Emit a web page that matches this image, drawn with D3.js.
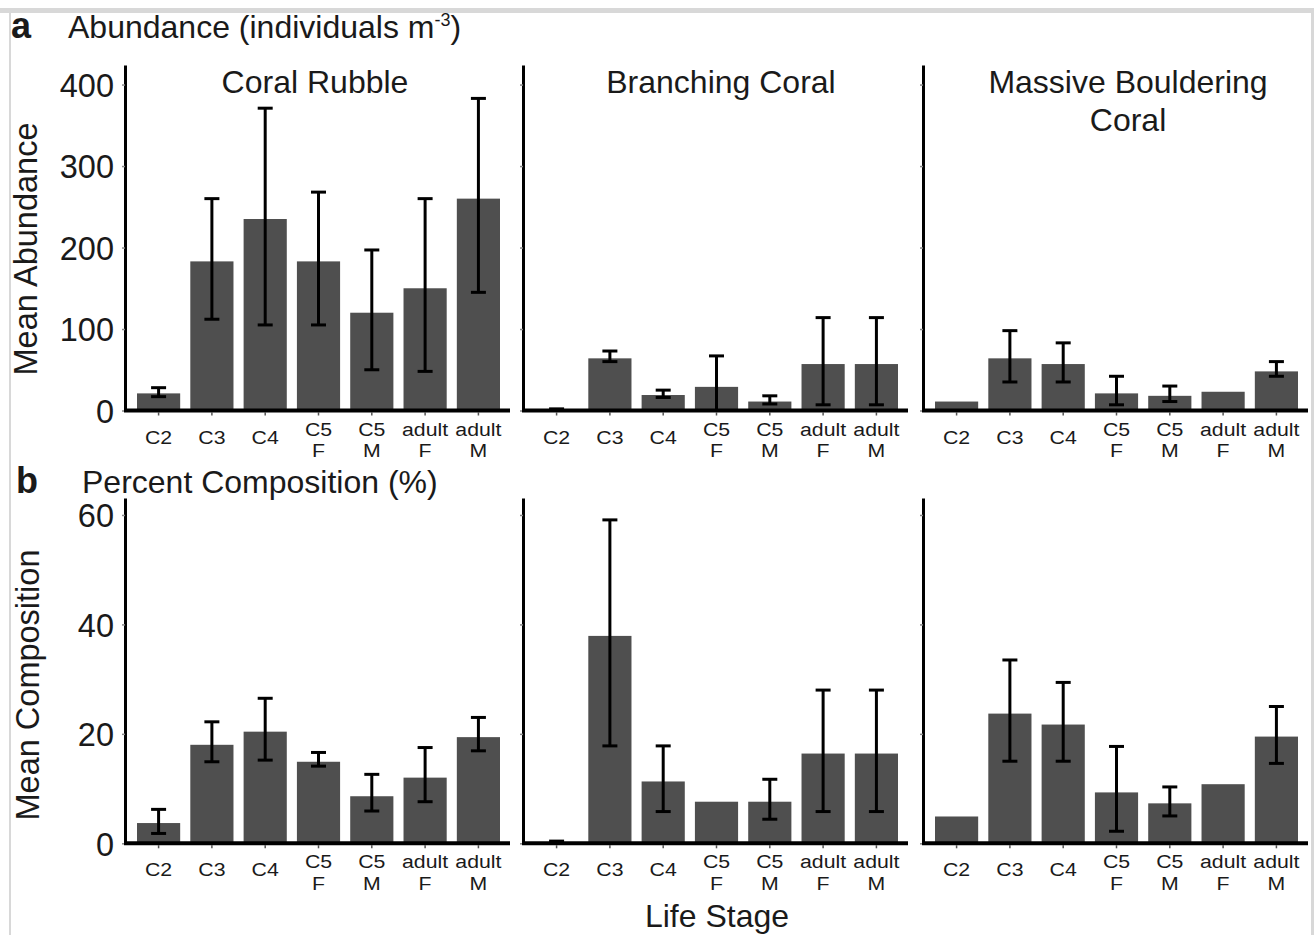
<!DOCTYPE html>
<html>
<head>
<meta charset="utf-8">
<script src="https://cdn.jsdelivr.net/npm/d3@7"></script>
<style>
  body { margin: 0; background: #fff; }
  svg text { font-family: "Liberation Sans", Arial, sans-serif; fill: #1a1a1a; }
</style>
</head>
<body>
<script>
// life stages (x categories), two-line tick labels
var stages = ["C2", "C3", "C4", "C5 F", "C5 M", "adult F", "adult M"];
var stageLines = [["C2"], ["C3"], ["C4"], ["C5", "F"], ["C5", "M"], ["adult", "F"], ["adult", "M"]];
var habitatTitles = [["Coral Rubble"], ["Branching Coral"], ["Massive Bouldering", "Coral"]];

// a: mean abundance (individuals m-3), with error bar ends (null = no bar)
var abundRubble = [21, 183, 235, 183, 120, 150, 260];
var abundRubbleLo = [17, 112, 105, 105, 50, 48, 145];
var abundRubbleHi = [28, 260, 371, 268, 197, 260, 383];
var abundBranching = [0, 64, 19, 29, 11, 57, 57];
var abundBranchingLo = [0, 60, 16, 0, 8, 7, 7];
var abundBranchingHi = [2, 73, 25, 67, 18, 114, 114];
var abundMassive = [11, 64, 57, 21, 18, 23, 48];
var abundMassiveLo = [null, 35, 35, 7, 11, null, 42];
var abundMassiveHi = [null, 98, 83, 42, 30, null, 60];

// b: mean percent composition
var compRubble = [3.7, 18, 20.4, 14.9, 8.6, 12, 19.4];
var compRubbleLo = [1.8, 14.9, 15.2, 14.1, 5.9, 7.6, 16.9];
var compRubbleHi = [6.2, 22.2, 26.5, 16.6, 12.6, 17.5, 23];
var compBranching = [0, 37.9, 11.3, 7.6, 7.6, 16.4, 16.4];
var compBranchingLo = [0, 17.8, 5.8, null, 4.4, 5.8, 5.8];
var compBranchingHi = [0.4, 59.1, 17.8, null, 11.7, 28, 28];
var compMassive = [4.9, 23.7, 21.7, 9.3, 7.3, 10.8, 19.5];
var compMassiveLo = [null, 15, 15, 2.2, 5.0, null, 14.6];
var compMassiveHi = [null, 33.5, 29.4, 17.7, 10.3, null, 25];

var abundTicks = [0, 100, 200, 300, 400];
var compTicks = [0, 20, 40, 60];

var svg = d3.select("body").append("svg")
  .attr("width", 1314)
  .attr("height", 935);

// light grey frame of the figure
svg.append("rect").attr("x", 0).attr("y", 8).attr("width", 1314).attr("height", 5).attr("fill", "#d8d8d8");
svg.append("rect").attr("x", 9).attr("y", 8).attr("width", 2).attr("height", 927).attr("fill", "#d8d8d8");
svg.append("rect").attr("x", 1311).attr("y", 8).attr("width", 3).attr("height", 927).attr("fill", "#d8d8d8");

var panelX = [125, 523, 923];   // left edge (y axis) of each habitat panel
var panelW = 385;
var titleX = [315, 721, 1128];

var rows = [
  { top: 65, base: 410.5, max: 424, ticks: abundTicks,
    series: [[abundRubble, abundRubbleLo, abundRubbleHi],
             [abundBranching, abundBranchingLo, abundBranchingHi],
             [abundMassive, abundMassiveLo, abundMassiveHi]] },
  { top: 498, base: 843.3, max: 63.1, ticks: compTicks,
    series: [[compRubble, compRubbleLo, compRubbleHi],
             [compBranching, compBranchingLo, compBranchingHi],
             [compMassive, compMassiveLo, compMassiveHi]] }
];

rows.forEach(function(row, r) {
  var y = d3.scaleLinear().domain([0, row.max]).range([row.base, row.top]);

  row.series.forEach(function(s, p) {
    var x0 = panelX[p];
    var x = d3.scaleBand().domain(stages)
      .range([x0 + 12, x0 + 375])
      .paddingInner(0.19).paddingOuter(0);
    var g = svg.append("g");

    var items = stages.map(function(st, i) {
      return { stage: st, lines: stageLines[i], v: s[0][i], lo: s[1][i], hi: s[2][i] };
    });

    g.selectAll("rect.bar").data(items).enter().append("rect")
      .attr("class", "bar")
      .attr("x", function(d) { return x(d.stage); })
      .attr("width", x.bandwidth())
      .attr("y", function(d) { return y(d.v); })
      .attr("height", function(d) { return y(0) - y(d.v); })
      .attr("fill", "#4f4f4f");

    // error bars
    var eb = g.selectAll("g.err").data(items.filter(function(d) { return d.lo !== null; }))
      .enter().append("g").attr("class", "err")
      .attr("stroke", "#000").attr("stroke-width", 3);
    eb.append("line")
      .attr("x1", function(d) { return x(d.stage) + x.bandwidth() / 2; })
      .attr("x2", function(d) { return x(d.stage) + x.bandwidth() / 2; })
      .attr("y1", function(d) { return y(d.lo); })
      .attr("y2", function(d) { return y(d.hi); });
    ["lo", "hi"].forEach(function(k) {
      eb.append("line")
        .attr("x1", function(d) { return x(d.stage) + x.bandwidth() / 2 - 7.5; })
        .attr("x2", function(d) { return x(d.stage) + x.bandwidth() / 2 + 7.5; })
        .attr("y1", function(d) { return y(d[k]); })
        .attr("y2", function(d) { return y(d[k]); });
    });

    // y axis with small ticks
    var yAxis = d3.axisLeft(y).tickValues(row.ticks).tickSize(3).tickSizeOuter(0)
      .tickFormat(p === 0 ? d3.format("d") : function() { return ""; });
    var ya = g.append("g").attr("transform", "translate(" + x0 + ",0)").call(yAxis);
    ya.select(".domain").attr("stroke", "#000").attr("stroke-width", 3);
    ya.selectAll(".tick line").attr("stroke", "#888").attr("stroke-width", 1.5);
    ya.selectAll(".tick text").attr("x", -11).attr("dy", "0.36em")
      .style("font-size", "32.5px").attr("fill", "#1a1a1a");

    // x axis: small ticks at band centres, thick baseline
    var xAxis = d3.axisBottom(x).tickSize(3).tickSizeOuter(0).tickFormat("");
    var xa = g.append("g").attr("transform", "translate(0," + row.base + ")").call(xAxis);
    xa.select(".domain").remove();
    xa.selectAll(".tick line").attr("stroke", "#555").attr("stroke-width", 1.5).attr("y1", 2).attr("y2", 5);
    g.append("line")
      .attr("x1", x0 - 1).attr("x2", x0 + panelW)
      .attr("y1", row.base).attr("y2", row.base)
      .attr("stroke", "#000").attr("stroke-width", 4);

    // category labels, one text per line, slightly widened like the source
    var catLines = [];
    items.forEach(function(d) {
      d.lines.forEach(function(t, i) {
        var by = d.lines.length === 1 ? row.base + 33 : row.base + 25 + i * 21.5;
        catLines.push({ t: t, cx: x(d.stage) + x.bandwidth() / 2, by: by });
      });
    });
    g.selectAll("text.cat").data(catLines).enter().append("text")
      .attr("class", "cat")
      .attr("text-anchor", "middle")
      .style("font-size", "19px")
      .attr("transform", function(d) { return "translate(" + d.cx + "," + d.by + ") scale(1.12,1)"; })
      .text(function(d) { return d.t; });

    // habitat titles on the top row
    if (r === 0) {
      habitatTitles[p].forEach(function(t, i) {
        svg.append("text")
          .attr("x", titleX[p]).attr("y", 93 + i * 38)
          .attr("text-anchor", "middle")
          .style("font-size", "32px")
          .text(t);
      });
    }
  });
});

// panel letters and headings
svg.append("text").attr("x", 11).attr("y", 38).style("font-size", "36px").style("font-weight", "bold").text("a");
var ha = svg.append("text").attr("x", 68).attr("y", 38).style("font-size", "32px").text("Abundance (individuals m");
ha.append("tspan").attr("dy", -12).style("font-size", "18px").text("-3");
ha.append("tspan").attr("dy", 12).text(")");

svg.append("text").attr("x", 16).attr("y", 493).style("font-size", "36px").style("font-weight", "bold").text("b");
svg.append("text").attr("x", 82).attr("y", 493).style("font-size", "32px").text("Percent Composition (%)");

// axis titles
svg.append("text").attr("transform", "translate(37,249) rotate(-90)")
  .attr("text-anchor", "middle").style("font-size", "32.5px").text("Mean Abundance");
svg.append("text").attr("transform", "translate(39,685) rotate(-90)")
  .attr("text-anchor", "middle").style("font-size", "32.5px").text("Mean Composition");
svg.append("text").attr("x", 717).attr("y", 927)
  .attr("text-anchor", "middle").style("font-size", "32px").text("Life Stage");
</script>
</body>
</html>
